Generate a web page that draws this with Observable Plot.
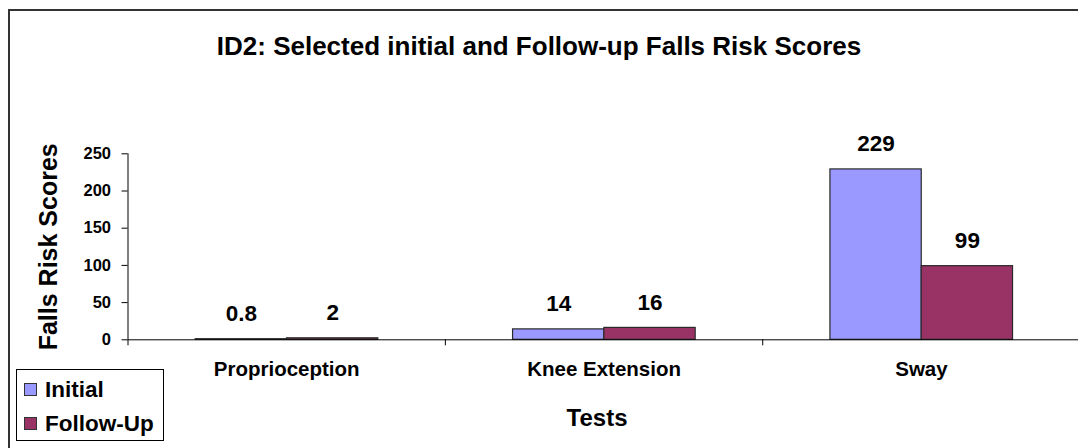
<!DOCTYPE html>
<html>
<head>
<meta charset="utf-8">
<script src="https://cdn.jsdelivr.net/npm/d3@7"></script>
<script src="https://cdn.jsdelivr.net/npm/@observablehq/plot@0.6"></script>
<style>
  html, body { margin: 0; padding: 0; background: #fff; overflow: hidden; }
  body { width: 1078px; height: 448px; position: relative; font-family: "Liberation Sans", Arial, sans-serif; font-weight: bold; color: #000; }
  #frame { position: absolute; left: 8px; top: 9px; width: 1200px; height: 600px; border-left: 2px solid #333; border-top: 2px solid #333; }
  #chart { position: absolute; left: 0; top: 0; }
  #title { position: absolute; left: 0; top: 33px; width: 1078px; text-align: center; font-size: 26px; line-height: 26px; white-space: nowrap; }
  #legend { position: absolute; left: 16px; top: 369px; width: 148px; height: 72px; border: 1.5px solid #000; background: #fff; box-sizing: border-box; }
  .item { position: absolute; left: 7px; font-size: 22.5px; line-height: 22px; white-space: nowrap; }
  .sw { display: inline-block; width: 11px; height: 11px; border: 1px solid #333; margin-right: 8px; vertical-align: 1px; }
</style>
</head>
<body>
<div id="frame"></div>
<div id="chart"></div>
<div id="title"></div>
<div id="legend"></div>
<script>
const tests = ["Proprioception", "Knee Extension", "Sway"];
const initial = [0.8, 14, 229];
const followUp = [2, 16, 99];
const series = ["Initial", "Follow-Up"];
const colors = ["#9999FF", "#993366"];
const yTicks = [0, 50, 100, 150, 200, 250];
const titleText = "ID2: Selected initial and Follow-up Falls Risk Scores";
const xTitle = "Tests";
const yTitle = "Falls Risk Scores";

// group layout (fractions of a category slot)
const gap = 0.2133, barW = 0.2877;

const data = [];
tests.forEach((t, i) => {
  [initial[i], followUp[i]].forEach((v, s) => {
    const x1 = i + gap + s * barW;
    data.push({test: t, series: series[s], value: v, x1, x2: x1 + barW, xc: x1 + barW / 2});
  });
});

const font = '"Liberation Sans", Arial, sans-serif';

const plot = Plot.plot({
  width: 1078,
  height: 448,
  marginLeft: 127.5,
  marginRight: 0,
  marginTop: 153.3,
  marginBottom: 108.7,
  style: {fontFamily: font, fontWeight: "bold", background: "transparent", overflow: "visible", color: "#000"},
  x: {domain: [0, tests.length], range: [127.5, 1079.6]},
  y: {domain: [0, 250]},
  color: {domain: series, range: colors},
  marks: [
    Plot.rectY(data, {x1: "x1", x2: "x2", y: "value", fill: "series", stroke: "#2a2a2a", strokeWidth: 1.2}),
    Plot.ruleY([0], {stroke: "#000", strokeWidth: 1}),
    Plot.ruleX([0], {y1: 0, y2: 250, stroke: "#000", strokeWidth: 1}),
    Plot.axisY({ticks: yTicks, tickSize: 6, tickPadding: 11, fontSize: 16.5, label: null, stroke: "#000"}),
    Plot.axisX({ticks: d3.range(0, tests.length), tickSize: 6, tickFormat: () => "", label: null, stroke: "#000"}),
    Plot.axisX({ticks: tests.map((t, i) => i + 0.5), tickSize: 0, tickPadding: 22, fontSize: 20.5, tickFormat: (d) => tests[Math.floor(d)], label: null}),
    Plot.text(data, {x: "xc", y: "value", text: (d) => String(d.value), dy: -18, lineAnchor: "bottom", fontSize: 22.5, fontWeight: "bold", fill: "#000"}),
    Plot.text([yTitle], {frameAnchor: "left", textAnchor: "middle", dx: -71, rotate: -90, lineAnchor: "bottom", fontSize: 25, fontWeight: "bold", fill: "#000"}),
    Plot.text([xTitle], {x: tests.length / 2, frameAnchor: "bottom", dx: -7, dy: 86, lineAnchor: "bottom", fontSize: 24, fontWeight: "bold", fill: "#000"})
  ]
});
document.getElementById("chart").appendChild(plot);

document.getElementById("title").textContent = titleText;

const legend = document.getElementById("legend");
series.forEach((s, i) => {
  const item = document.createElement("div");
  item.className = "item";
  item.style.top = (9 + i * 34) + "px";
  const sw = document.createElement("span");
  sw.className = "sw";
  sw.style.background = colors[i];
  item.appendChild(sw);
  item.appendChild(document.createTextNode(s));
  legend.appendChild(item);
});
</script>
</body>
</html>
